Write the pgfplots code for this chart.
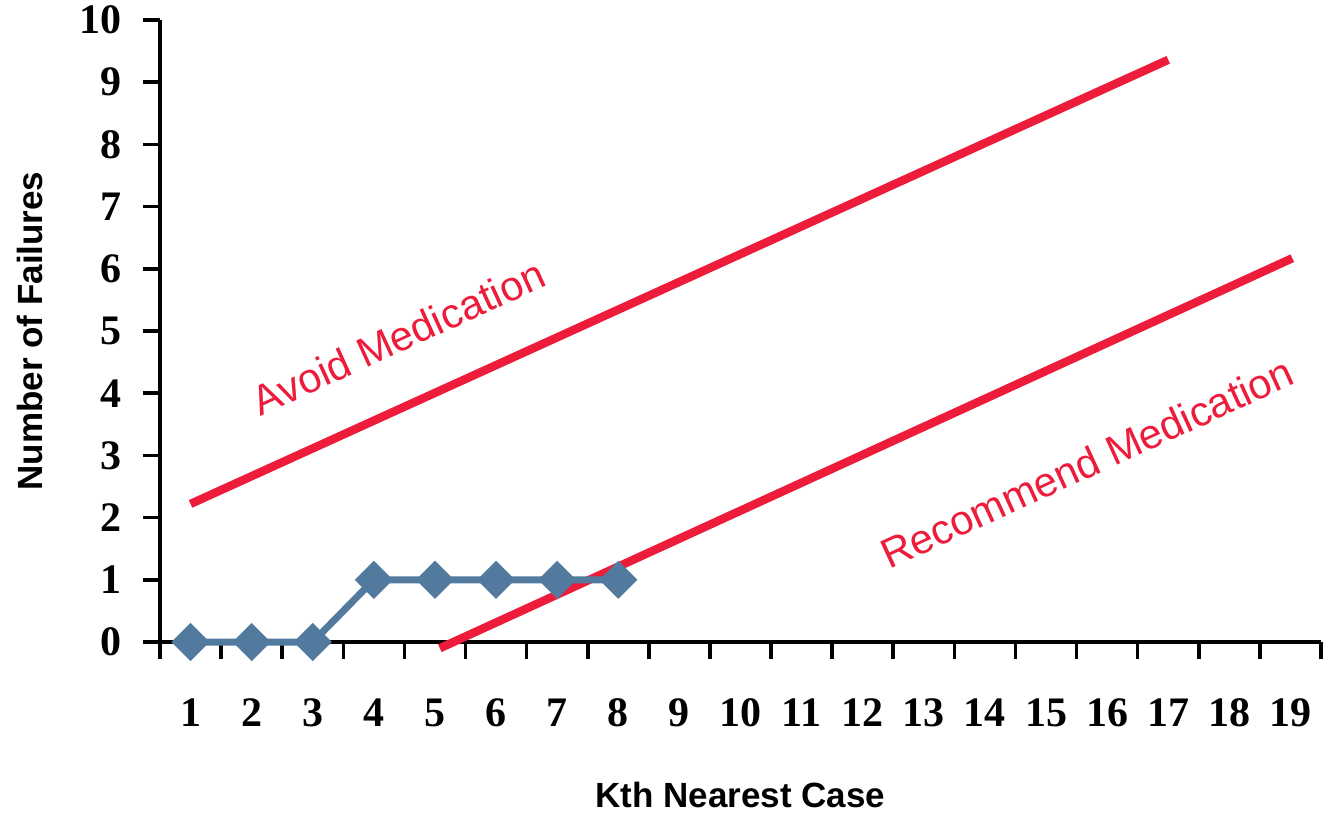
\documentclass[border=0pt]{standalone}
\usepackage{pgfplots}
\pgfplotsset{compat=1.18}
\usepackage{fontspec}
\setmainfont{Liberation Serif}
\newfontfamily\arial{Liberation Sans}
\definecolor{redline}{RGB}{237,28,58}
\definecolor{blueline}{RGB}{82,122,158}
\begin{document}
\begin{tikzpicture}
\path[use as bounding box] (-80pt,-86pt) rectangle (588.5pt,321pt);
\begin{axis}[
  at={(0,0)}, anchor=south west,
  scale only axis, width=580.5pt, height=311pt,
  xmin=0.5, xmax=19.5, ymin=0, ymax=10,
  clip=false,
  axis x line=bottom, axis y line=left,
  axis line style={-, line width=1.8pt, black},
  tick style={line width=1.8pt, black},
  tick align=outside,
  major tick length=8.5pt,
  xtick={0.5,1.5,...,19.5},
  xticklabels={},
  extra x ticks={1,2,...,19},
  extra x tick labels={1,2,3,4,5,6,7,8,9,10,11,12,13,14,15,16,17,18,19},
  extra x tick style={major tick length=0pt, tick style={draw=none},
     xticklabel style={anchor=north, text height=14pt, text depth=0pt, yshift=-24.5pt}},
  ytick={0,1,...,10},
  yticklabel style={anchor=east, xshift=-7pt},
  /pgf/number format/assume math mode=true,
  ticklabel style={font=\fontsize{21}{24}\selectfont\bfseries},
  xlabel={Kth Nearest Case},
  ylabel={Number of Failures},
  label style={font=\arial\fontsize{17.5}{20}\selectfont\bfseries},
  xlabel style={at={(axis description cs:0.5,-0.246)}, anchor=center},
  ylabel style={at={(axis description cs:-0.112,0.5)}, anchor=center},
]
\addplot[redline, line width=4.2pt] coordinates {(1,2.22) (17,9.36)};
\addplot[redline, line width=4.2pt] coordinates {(5.08,-0.10) (19.03,6.17)};
\addplot[blueline, line width=3.5pt, mark=square*, mark size=5pt,
  mark options={rotate=45, fill=blueline, draw=none}] coordinates {
  (1,0) (2,0) (3,0) (4,1) (5,1) (6,1) (7,1) (8,1)};
\node[redline, rotate=24.6, font=\arial\fontsize{20.8}{24}\selectfont] at (axis cs:4.40,4.90) {Avoid Medication};
\node[redline, rotate=24.6, font=\arial\fontsize{20.8}{24}\selectfont] at (axis cs:15.67,2.88) {Recommend Medication};
\end{axis}
\end{tikzpicture}
\end{document}
